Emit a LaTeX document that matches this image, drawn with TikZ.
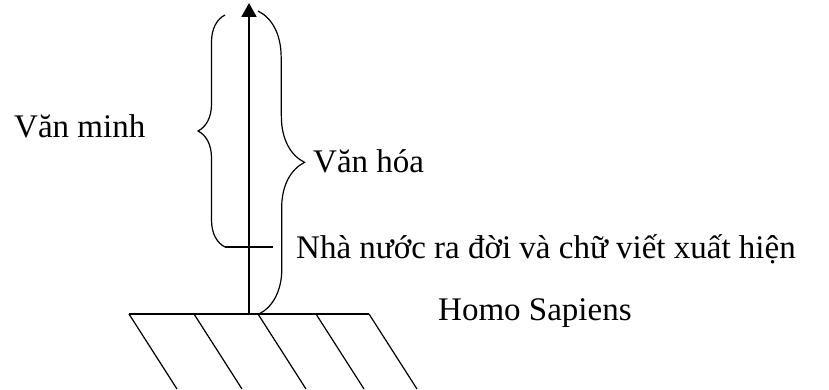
\documentclass[tikz,border=0pt]{standalone}
\usepackage{fontspec}
\setmainfont{Liberation Serif}
\usetikzlibrary{arrows.meta,decorations.pathreplacing}

\begin{document}
\begin{tikzpicture}[x=1pt,y=1pt,
  lbl/.style={inner sep=0pt,anchor=base west,font=\fontsize{33}{38}\selectfont},
  brc/.style={decorate,decoration={brace,amplitude=#1},line width=1.2pt}]
\useasboundingbox (0,0) rectangle (829,389);
\coordinate (gw) at (129,75);
\coordinate (ge) at (369,75);
\coordinate (base) at (249,76);
\coordinate (top) at (249,386);
\coordinate (lb) at (225,142);
\coordinate (lt) at (225,374);
\coordinate (tk) at (273,142);
\coordinate (rt) at (258,378);
\coordinate (rb) at (259,75);
\draw[line width=1.2pt] (gw) -- (ge);
\foreach \x in {129,194,258,316,369}
  \draw[line width=1.2pt] (\x,75) -- ++(48,-75);
\draw[line width=2pt,-{Triangle[length=14pt,width=15pt]}] (base) -- (top);
\draw[brc=27pt] (lb) -- (lt);
\draw[line width=1.2pt] (lb) -- (tk);
\draw[brc=46pt] (rt) -- (rb);
\node[lbl] (vanminh) at (14,252) {Văn minh};
\node[lbl] (vanhoa) at (313,217) {Văn hóa};
\node[lbl] (nhanuoc) at (296,131) {Nhà nước ra đời và chữ viết xuất hiện};
\node[lbl] (homo) at (438,69) {Homo Sapiens};
\end{tikzpicture}
\end{document}
